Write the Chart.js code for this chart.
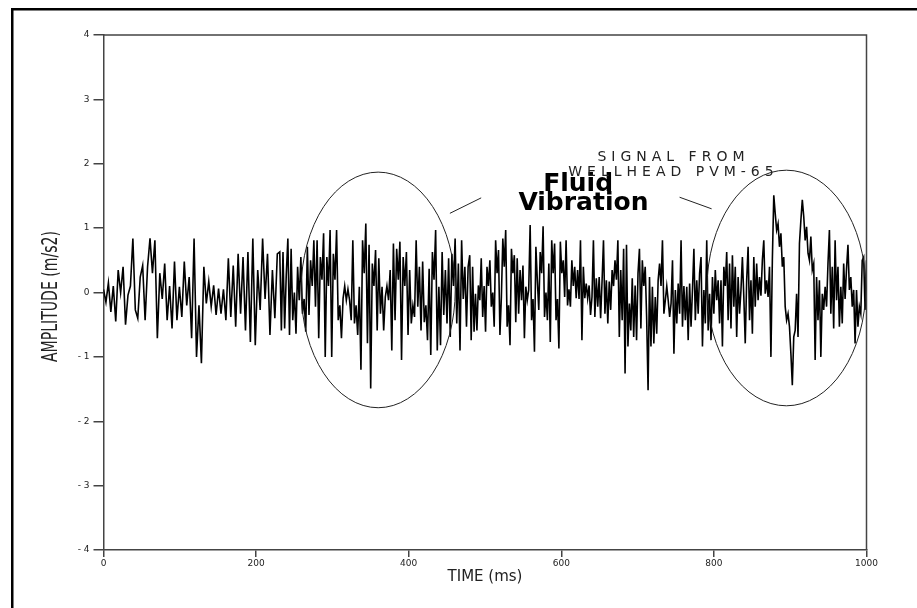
<!DOCTYPE html>
<html>
<head>
<meta charset="utf-8">
<title>Signal from wellhead PVM-65</title>
<script src="https://cdn.jsdelivr.net/npm/chart.js@4.4.1/dist/chart.umd.min.js"></script>
<style>
  html, body { margin: 0; padding: 0; background: #fff; }
  canvas { display: block; }
</style>
</head>
<body>
<canvas id="mycanvas" width="917" height="608"></canvas>
<script>
// amplitude (m/s2), four stretches of time
var segmentBounds = [0, 231, 480, 742, 1000];

var amp1 = [0.05, -0.15, 0.15, -0.3, 0.1, -0.45, 0.35, 0.0, 0.4, -0.5,
  -0.04, 0.1, 0.84, -0.27, -0.4, 0.24, 0.42, -0.43, 0.4, 0.84,
  0.3, 0.81, -0.71, 0.3, -0.1, 0.45, -0.43, 0.1, -0.56, 0.48,
  -0.43, 0.09, -0.38, 0.48, -0.2, 0.24, -0.71, 0.84, -1.0, -0.2,
  -1.1, 0.4, -0.17, 0.17, -0.22, 0.11, -0.35, 0.06, -0.33, 0.05,
  -0.43, 0.53, -0.38, 0.42, -0.53, 0.6, -0.33, 0.55, -0.59, 0.63,
  -0.77, 0.84, -0.82, 0.35, -0.27, 0.84, -0.1, 0.6, -0.66, 0.35,
  -0.4, 0.6];

var amp2 = [0.63, -0.59, 0.63, -0.56, 0.27, 0.84, -0.66, 0.68, -0.43, 0.0,
  -0.64, 0.4, -0.12, 0.55, -0.33, -0.1, -0.61, 0.71, -0.35, 0.5,
  0.1, 0.81, -0.22, 0.81, -0.71, 0.55, 0.2, 0.92, -1.0, 0.55,
  0.1, 0.97, -1.0, 0.6, 0.2, 0.97, -0.43, -0.2, -0.71, -0.09,
  0.1, -0.12, 0.05, -0.12, -0.43, 0.81, -0.48, -0.2, -0.66, 0.09,
  -1.2, 0.81, 0.3, 1.07, -0.79, 0.74, -1.49, 0.45, 0.1, 0.66,
  -0.59, 0.53, -0.33, 0.09, -0.59, -0.07, 0.1, -0.12, 0.35, -0.9,
  0.76, -0.43, 0.68, 0.2, 0.79, -1.05, 0.55, 0.1, 0.63, -0.66,
  0.35, -0.48, -0.2, -0.38, 0.81, -0.22, 0.4, -0.59, 0.48, -0.46,
  -0.2, -0.74, 0.37, -0.97, 0.63, 0.2, 0.97, -0.9, 0.09, -0.82,
  0.63, -0.35, 0.35, -0.48, 0.53, -0.69, 0.6, 0.1, 0.84, -0.48,
  0.45, -0.9, 0.81, -0.1, 0.4, -0.53, 0.4];

var amp3 = [0.58, -0.74, 0.4, -0.61, -0.02, -0.59, 0.11, -0.12, 0.53, -0.38,
  0.1, -0.61, 0.4, 0.1, 0.5, -0.22, 0.0, -0.53, 0.81, 0.3,
  0.66, -0.66, -0.07, 0.84, 0.4, 0.97, -0.53, -0.2, -0.82, 0.68,
  0.3, 0.58, -0.46, 0.53, -0.33, 0.35, -0.12, 0.42, -0.71, 0.09,
  -0.12, 0.04, 1.05, -0.43, -0.1, -0.92, 0.71, 0.19, -0.27, 0.63,
  0.3, 1.03, -0.38, 0.0, -0.43, 0.45, -0.77, 0.81, 0.3, 0.76,
  -0.43, -0.1, -0.87, 0.79, 0.3, 0.5, -0.07, 0.81, -0.2, 0.05,
  -0.22, 0.5, 0.1, 0.4, -0.09, 0.35, -0.1, 0.81, -0.74, 0.4,
  -0.09, 0.14, -0.09, 0.11, -0.35, -0.07, 0.81, -0.38, 0.22, -0.22,
  0.24, -0.4, 0.17, 0.81, -0.33, 0.19, -0.48, 0.17, -0.27, 0.35,
  0.1, 0.5, 0.2, 0.81, -0.69, 0.35, -0.43, 0.68, -1.26, 0.74,
  -0.84, -0.17, -0.59, 0.22, -0.69, 0.11, -0.74, 0.3, 0.68, -0.56,
  0.5, 0.1, 0.4, -0.38, -1.52, 0.24, -0.84, 0.09, -0.79, -0.07,
  -0.64, 0.19, 0.45, 0.1, 0.81, -0.33, -0.12, 0.1, -0.12];

var amp4 = [-0.38, -0.17, 0.5, -0.95, 0.04, -0.48, 0.14, -0.33, 0.81, -0.53,
  0.1, -0.43, 0.09, -0.74, 0.14, -0.53, 0.04, 0.68, -0.43, 0.19,
  -0.33, 0.3, 0.55, -0.84, 0.04, -0.48, 0.81, -0.59, -0.02, -0.74,
  0.24, -0.33, 0.35, -0.12, 0.19, -0.48, 0.19, -0.84, 0.4, 0.1,
  0.63, -0.43, 0.45, -0.56, 0.58, -0.22, 0.4, -0.69, 0.24, -0.33,
  0.04, 0.55, -0.07, -0.79, 0.19, 0.71, -0.43, 0.19, -0.64, 0.55,
  -0.22, 0.45, -0.12, 0.24, -0.05, 0.5, 0.81, -0.02, 0.19, -0.07,
  0.4, -1.0, 0.5, 1.51, 1.23, 0.97, 1.07, 0.71, 0.92, 0.4,
  0.55, -0.22, -0.43, -0.33, -0.53, -0.95, -1.44, -0.69, -0.59, -0.02,
  -0.69, 0.76, 1.12, 1.44, 1.18, 0.81, 1.02, 0.61, 0.5, 0.87,
  0.35, 0.45, -1.05, 0.24, -0.43, 0.19, -1.0, -0.02, -0.27, 0.09,
  -0.22, 0.45, 0.97, -0.33, 0.4, -0.56, 0.81, -0.12, 0.4, -0.53,
  0.09, -0.48, 0.45, -0.1, 0.37, 0.74, 0.04, 0.24, -0.22, 0.04,
  -0.79, 0.04, -0.53, -0.22, -0.33, 0.5, 0.55, -0.27, 0.5];

var ampSegments = [amp1, amp2, amp3, amp4];

var timeTicks = [0, 200, 400, 600, 800, 1000];
var ampTicks = [-4, -3, -2, -1, 0, 1, 2, 3, 4];

// build the {x, y} points: samples spread evenly over each stretch
var points = [];
for (var k = 0; k < ampSegments.length; k++) {
  var seg = ampSegments[k];
  var t0 = segmentBounds[k], t1 = segmentBounds[k + 1];
  var last = (k == ampSegments.length - 1);
  var step = (t1 - t0) / (last ? seg.length - 1 : seg.length);
  for (var i = 0; i < seg.length; i++) {
    points.push({ x: t0 + i * step, y: seg[i] });
  }
}

// circled regions and the callout, in data units
var notes = {
  ellipses: [
    { cx: 360, cy: 0.04, rx: 101, ry: 1.83 },
    { cx: 895, cy: 0.07, rx: 104, ry: 1.83 }
  ],
  leaders: [
    [454, 1.23, 495, 1.47],
    [755, 1.48, 797, 1.30]
  ]
};

var decorations = {
  id: 'decorations',
  afterDraw: function(chart) {
    var ctx = chart.ctx;
    var xs = chart.scales.x, ys = chart.scales.y;
    var a = chart.chartArea;
    ctx.save();

    // box round the plot
    ctx.strokeStyle = '#444';
    ctx.lineWidth = 1.5;
    ctx.beginPath();
    ctx.moveTo(a.left, a.top);
    ctx.lineTo(a.right, a.top);
    ctx.lineTo(a.right, a.bottom);
    ctx.stroke();

    // ellipses
    ctx.strokeStyle = '#222';
    ctx.lineWidth = 1;
    notes.ellipses.forEach(function(e) {
      var px = xs.getPixelForValue(e.cx), py = ys.getPixelForValue(e.cy);
      var rx = Math.abs(xs.getPixelForValue(e.cx + e.rx) - px);
      var ry = Math.abs(ys.getPixelForValue(e.cy + e.ry) - py);
      ctx.beginPath();
      ctx.ellipse(px, py, rx, ry, 0, 0, Math.PI * 2);
      ctx.stroke();
    });

    notes.leaders.forEach(function(l) {
      ctx.beginPath();
      ctx.moveTo(xs.getPixelForValue(l[0]), ys.getPixelForValue(l[1]));
      ctx.lineTo(xs.getPixelForValue(l[2]), ys.getPixelForValue(l[3]));
      ctx.stroke();
    });

    // callout text
    ctx.fillStyle = '#000';
    ctx.textAlign = 'center';
    ctx.textBaseline = 'alphabetic';
    ctx.font = 'bold 25px "DejaVu Sans"';
    ctx.fillText('Fluid', xs.getPixelForValue(622), ys.getPixelForValue(1.57));
    ctx.fillText('Vibration', xs.getPixelForValue(629), ys.getPixelForValue(1.28));

    ctx.fillStyle = '#222';
    ctx.font = '14px "DejaVu Sans"';
    ctx.letterSpacing = '5px';
    ctx.fillText('SIGNAL FROM', xs.getPixelForValue(747), ys.getPixelForValue(2.04));
    ctx.fillText('WELLHEAD PVM-65', xs.getPixelForValue(747), ys.getPixelForValue(1.81));
    ctx.letterSpacing = '0px';

    // y axis title, tall and narrow like the plotter lettering
    ctx.save();
    ctx.translate(51, (a.top + a.bottom) / 2 + 4);
    ctx.rotate(-Math.PI / 2);
    ctx.scale(0.64, 1);
    ctx.fillStyle = '#222';
    ctx.font = '22px "DejaVu Sans"';
    ctx.textAlign = 'center';
    ctx.textBaseline = 'middle';
    ctx.fillText('AMPLITUDE (m/s2)', 0, 0);
    ctx.restore();

    // outer frame
    ctx.fillStyle = '#000';
    ctx.fillRect(11, 8, 2.5, 600);
    ctx.fillRect(11, 8, 906, 2.5);
    ctx.restore();
  }
};

var ctx = document.getElementById('mycanvas');

var LineGraph = new Chart(ctx, {
  type: 'line',
  data: {
    datasets: [{
      label: 'Amplitude',
      data: points,
      borderColor: '#000',
      borderWidth: 1.6,
      pointRadius: 0,
      fill: false,
      tension: 0
    }]
  },
  options: {
    responsive: false,
    animation: false,
    layout: { padding: { left: 0, top: 35, right: 50.5, bottom: 0 } },
    plugins: { legend: { display: false }, tooltip: { enabled: false } },
    scales: {
      x: {
        type: 'linear',
        min: 0,
        max: 1000,
        afterBuildTicks: function(s) { s.ticks = timeTicks.map(function(v) { return { value: v }; }); },
        afterFit: function(s) { s.height = 58; },
        ticks: {
          color: '#222',
          font: { family: 'DejaVu Sans', size: 9 },
          padding: 1,
          maxRotation: 0,
          autoSkip: false,
          callback: function(v) { return '' + v; }
        },
        grid: { drawOnChartArea: false, tickLength: 7, color: '#444', lineWidth: 1.5 },
        border: { color: '#444', width: 1.5 },
        title: {
          display: true,
          text: 'TIME (ms)',
          color: '#222',
          font: { family: 'DejaVu Sans', size: 15 },
          padding: { top: 0, bottom: 22 }
        }
      },
      y: {
        min: -4,
        max: 4,
        afterBuildTicks: function(s) { s.ticks = ampTicks.map(function(v) { return { value: v }; }); },
        afterFit: function(s) { s.width = 103.5; },
        ticks: {
          color: '#222',
          font: { family: 'DejaVu Sans', size: 9 },
          padding: 4,
          callback: function(v) { return v < 0 ? '- ' + (-v) : '' + v; }
        },
        grid: { drawOnChartArea: false, tickLength: 10, color: '#444', lineWidth: 1.5 },
        border: { color: '#444', width: 1.5 },
        title: { display: false }
      }
    }
  },
  plugins: [decorations]
});
</script>
</body>
</html>
